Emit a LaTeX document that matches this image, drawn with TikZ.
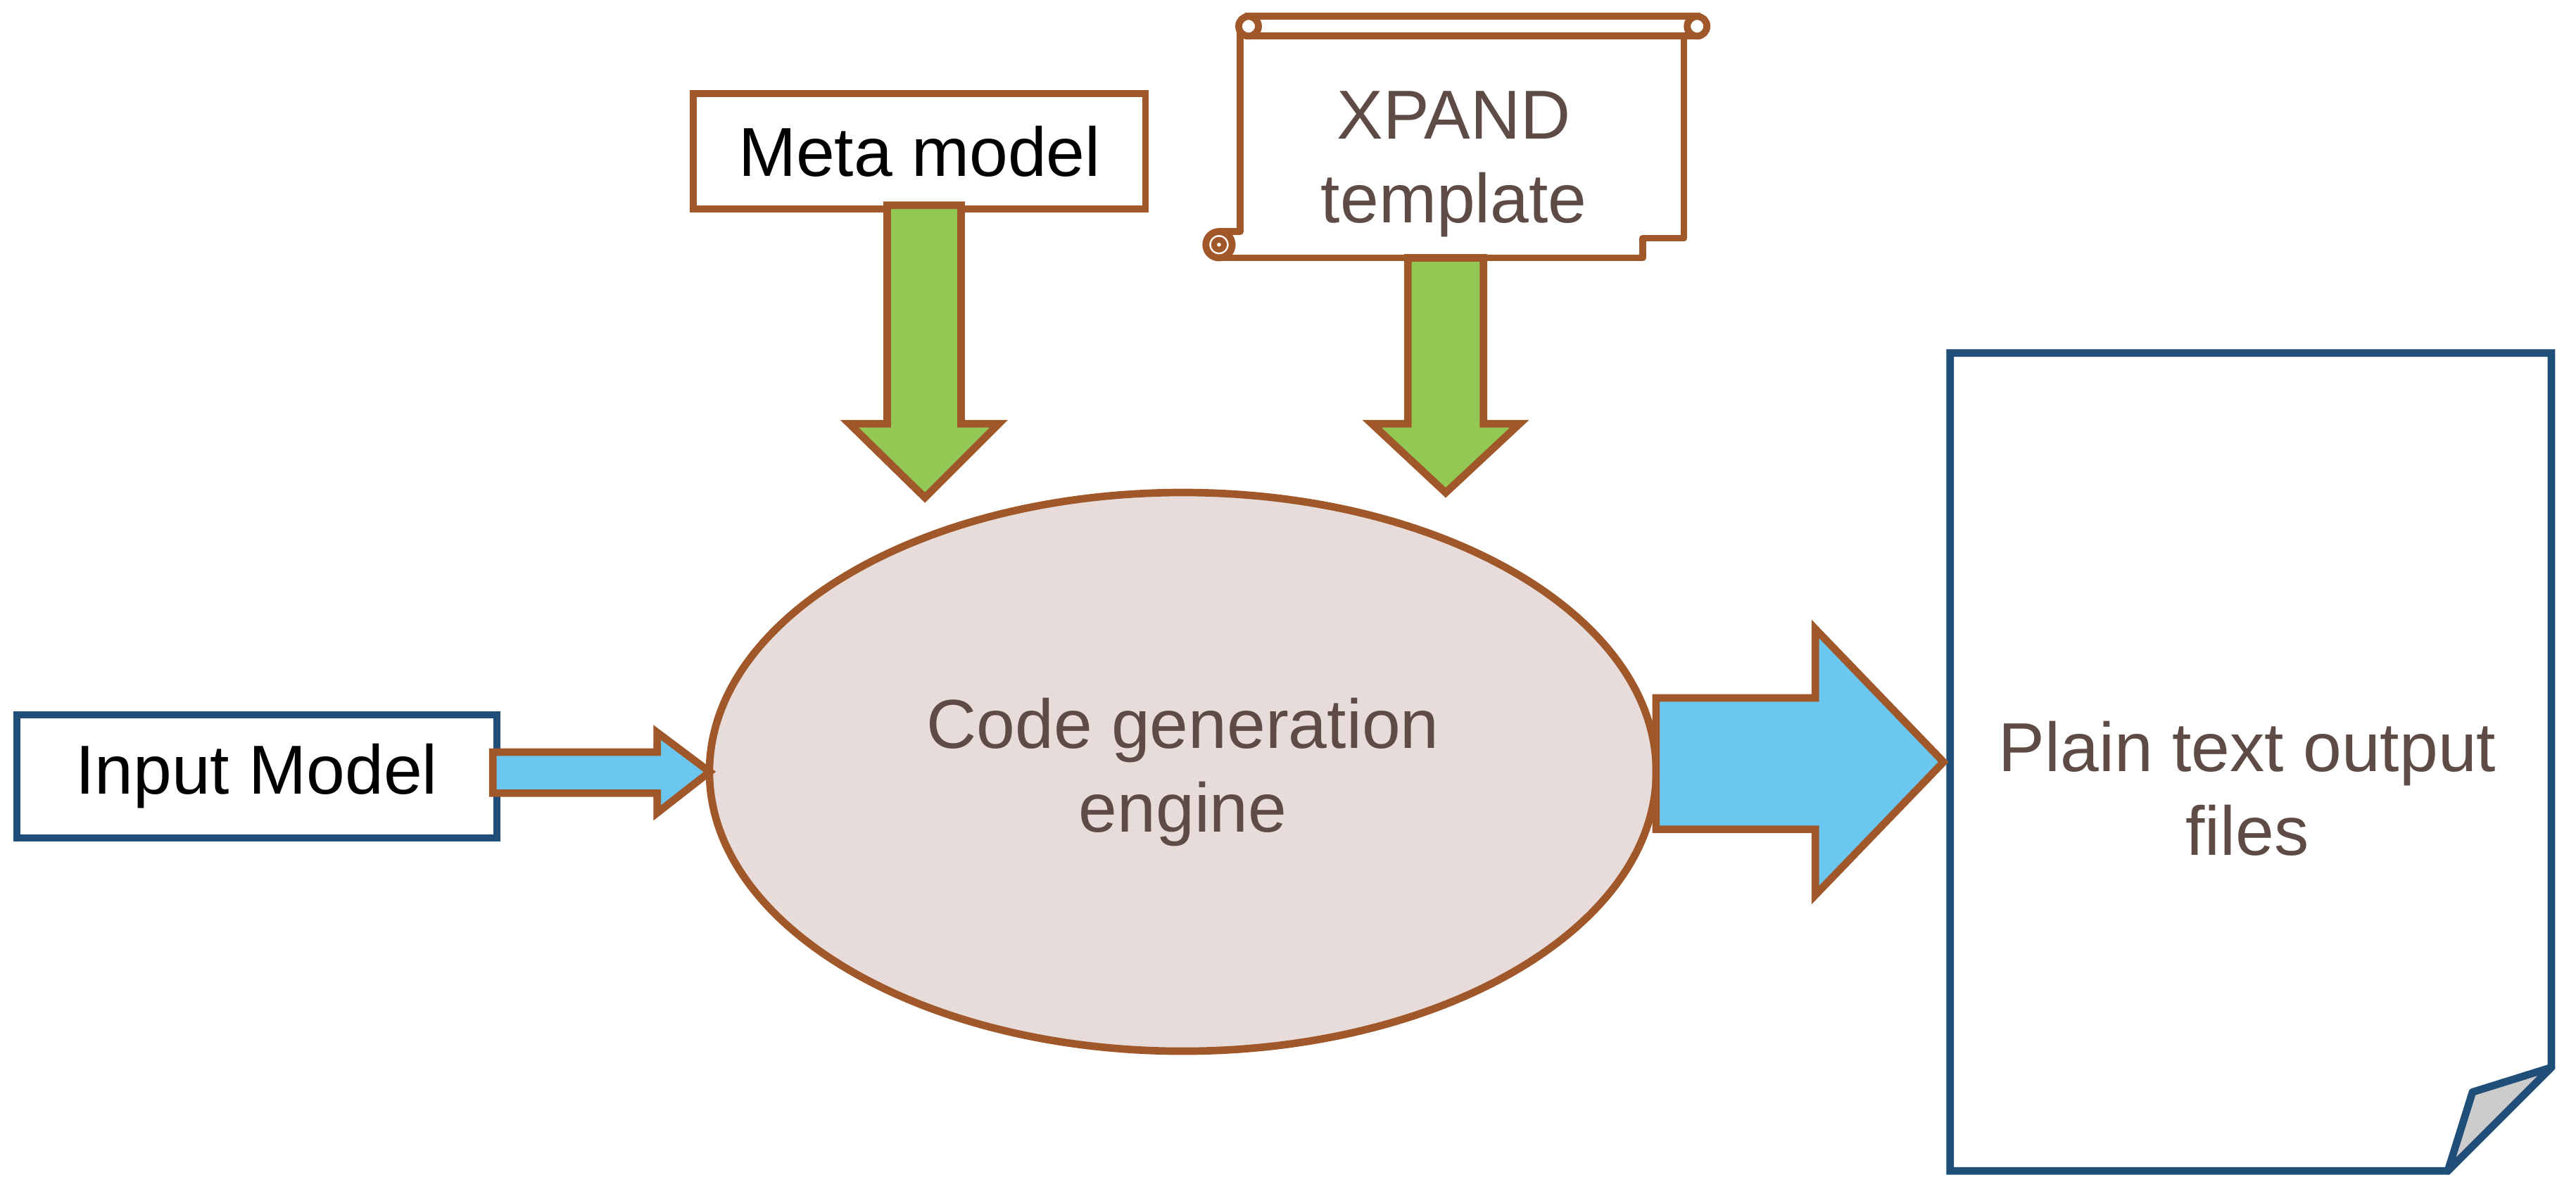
\documentclass[tikz,border=0pt]{standalone}
\usepackage{fontspec}
\setmainfont{Liberation Sans}
\usetikzlibrary{shapes.geometric}
\definecolor{brn}{HTML}{A0582A}
\definecolor{dblue}{HTML}{1F4E79}
\definecolor{lblue}{HTML}{6CC7F0}
\definecolor{grn}{HTML}{92C853}
\definecolor{pink}{HTML}{E7DCDA}
\definecolor{txt}{HTML}{5E4B45}
\begin{document}
\begin{tikzpicture}[x=0.01cm,y=-0.01cm,
  fnt/.style={font=\fontsize{12}{14.5}\selectfont},
  box/.style={draw,line width=1.2pt,fill=white,inner sep=0pt,fnt},
  arr/.style={draw=brn,line width=1.3pt,line join=miter}]
\useasboundingbox (0,0) rectangle (1568,731);
\node[box,draw=dblue,minimum width=2.92cm,minimum height=0.75cm,anchor=north west] (in) at (8,433) {Input Model};
\node[box,draw=brn,minimum width=2.75cm,minimum height=0.70cm,anchor=north west] (meta) at (420,55) {Meta model};
\node[ellipse,draw=brn,line width=1.3pt,fill=pink,minimum width=5.76cm,minimum height=3.4cm,inner sep=0pt,text=txt,align=center,fnt] (eng) at (720,470) {Code generation\\engine};
% scroll
\draw[brn,line width=1.2pt,fill=white,line join=round] (755,20) -- (1025,20) -- (1025,145) -- (1000,145) -- (1000,157) -- (742,157) -- (742,141) -- (755,141) -- cycle;
\draw[brn,line width=1.2pt,fill=white] (760,10) rectangle (1033,22);
\draw[brn,line width=1.2pt,fill=white] (760,16) circle[radius=0.06cm];
\draw[brn,line width=1.2pt,fill=white] (1033,16) circle[radius=0.06cm];
\draw[brn,line width=1.2pt,fill=white] (742,149) circle[radius=0.08cm];
\draw[brn,line width=1pt] (742,149) circle[radius=0.03cm];
\node[text=txt,align=center,fnt] (xp) at (885,100) {XPAND\\template};
% document
\draw[dblue,line width=1.3pt,fill=white] (1187,215) -- (1553,215) -- (1553,650) -- (1490,713) -- (1187,713) -- cycle;
\draw[dblue,line width=1.3pt,fill=gray!40,line join=round] (1553,650) -- (1490,713) -- (1505,665) -- cycle;
\node[text=txt,align=center,fnt] (doc) at (1368,480) {Plain text output\\files};
% arrows
\draw[arr,fill=lblue] (300,458) -- (400,458) -- (400,446) -- (432,470) -- (400,495) -- (400,483) -- (300,483) -- cycle;
\draw[arr,fill=grn] (540,125) -- (585,125) -- (585,258) -- (608,258) -- (563,303) -- (517,258) -- (540,258) -- cycle;
\draw[arr,fill=grn] (857,157) -- (903,157) -- (903,258) -- (925,258) -- (880,300) -- (835,258) -- (857,258) -- cycle;
\draw[arr,fill=lblue] (1008,425) -- (1105,425) -- (1105,383) -- (1183,464) -- (1105,545) -- (1105,505) -- (1008,505) -- cycle;
\end{tikzpicture}
\end{document}
